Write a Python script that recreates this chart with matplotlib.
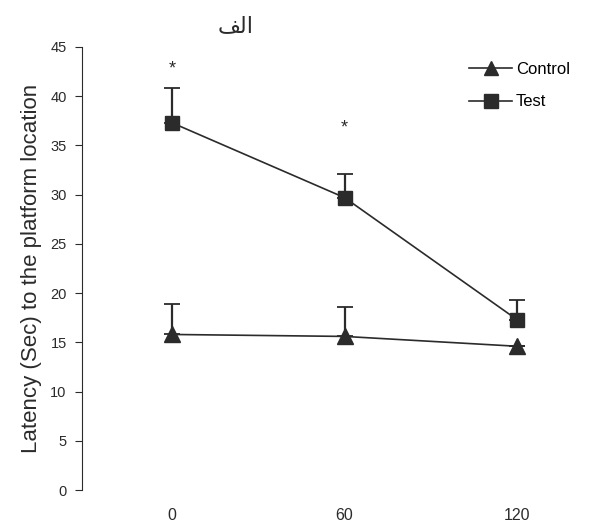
import numpy as np
import matplotlib.pyplot as plt
from matplotlib.lines import Line2D

plt.rcParams['font.family'] = ['Liberation Sans', 'DejaVu Sans']

# data
times = [0, 60, 120]
control = [15.8, 15.6, 14.6]
control_err = [3.1, 3.0, 0.0]
test = [37.3, 29.7, 17.3]
test_err = [3.5, 2.4, 2.0]
star_times = [0, 60]
star_heights = [42.8, 36.8]
yticks = list(range(0, 50, 5))

fig = plt.figure(figsize=(5.93, 5.31), dpi=100)
ax = fig.add_axes([82 / 593, 1 - 490 / 531, (570 - 82) / 593, (490 - 47) / 531])

col = '#2b2b2b'
# upward error bars only, drawn under the markers
ax.errorbar(times, control, yerr=[np.zeros(3), control_err], fmt='none', ecolor=col,
            capsize=6, capthick=1.3, elinewidth=1.6, zorder=1)
ax.errorbar(times, test, yerr=[np.zeros(3), test_err], fmt='none', ecolor=col,
            capsize=6, capthick=1.3, elinewidth=1.6, zorder=1)
ax.plot(times, control, color=col, lw=1.2, marker='^', ms=11, zorder=3)
ax.plot(times, test, color=col, lw=1.2, marker='s', ms=10.5, zorder=3)

for t, h in zip(star_times, star_heights):
    ax.text(t, h, '*', ha='center', va='center', fontsize=13, color=col)

ax.set_xlim(-31.3, 138.4)
ax.set_ylim(0, 45)
ax.set_yticks(yticks)
ax.set_xticks(times)
for s in ['top', 'right', 'bottom']:
    ax.spines[s].set_visible(False)
ax.spines['left'].set_color(col)
ax.tick_params(axis='y', direction='out', length=5, colors=col, labelsize=10.5, pad=6)
ax.tick_params(axis='x', length=0, labelsize=11.5, pad=13, colors=col)
ax.set_ylabel('Latency (Sec) to the platform location', fontsize=16, color=col, labelpad=6)

# Arabic title, pre-shaped (feh final, lam initial, alef)
fig.text(236 / 593, 1 - 26 / 531, '\uFED2\uFEDF\uFE8D', ha='center', va='center',
         fontsize=16, color=col, family=['DejaVu Sans'])

handles = [Line2D([], [], color=col, lw=1.2, marker='^', ms=10),
           Line2D([], [], color=col, lw=1.2, marker='s', ms=9.5)]
ax.legend(handles, ['Control', 'Test'], loc='upper right', bbox_to_anchor=(1.03, 1.0),
          frameon=False, fontsize=12, handlelength=2.6, labelspacing=1.05,
          handletextpad=0.2)

fig.savefig('out.png', dpi=100)
